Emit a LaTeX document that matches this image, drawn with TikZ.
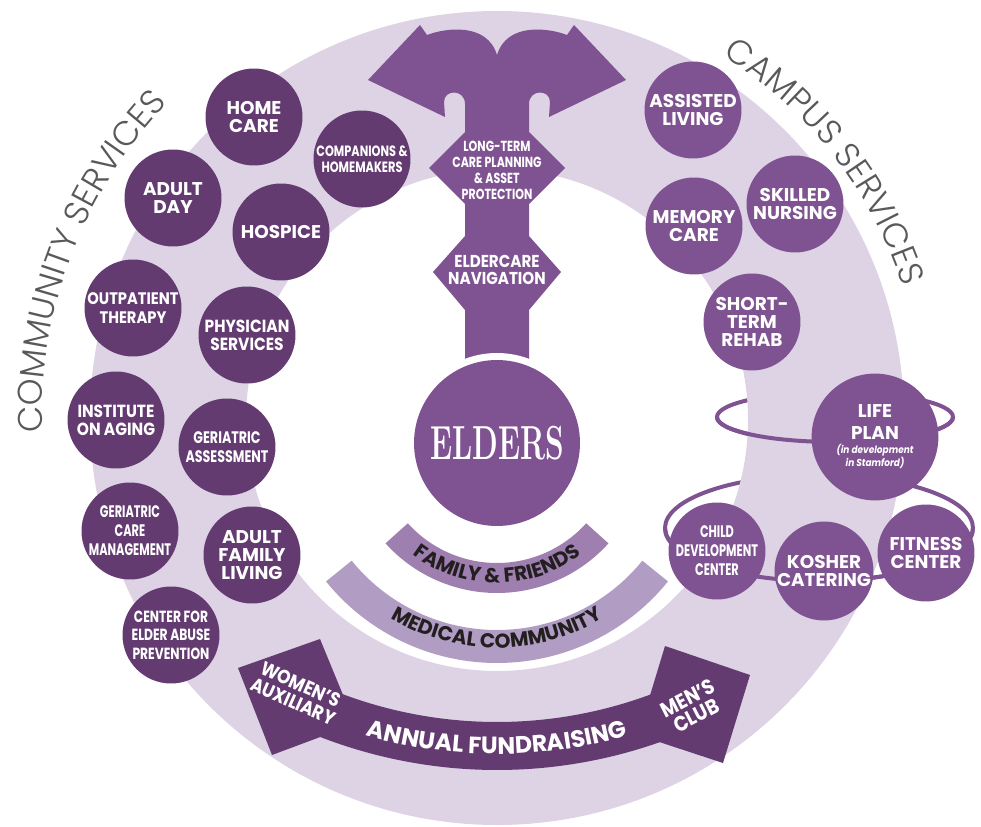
\documentclass[tikz,border=0pt]{standalone}
\usepackage{fontspec}
\usepackage{graphicx}
\usepackage{tikz}
\usetikzlibrary{decorations.text}
\newfontfamily\pop{Poppins}
\newfontfamily\popn{Poppins}[FakeStretch=0.88]
\newfontfamily\popc{Poppins}[FakeStretch=0.76]
\newfontfamily\popcc{Poppins}[FakeStretch=0.68]
\newfontfamily\lightfont{Poppins Light}
\definecolor{lav}{RGB}{221, 211, 228}
\definecolor{community}{RGB}{99, 59, 113}
\definecolor{campus}{RGB}{127, 83, 145}
\definecolor{fam}{RGB}{158, 127, 176}
\definecolor{med}{RGB}{177, 157, 195}
\definecolor{grey}{RGB}{88, 89, 91}
\definecolor{ink}{RGB}{35, 31, 32}

\begin{document}
\begin{tikzpicture}[x=0.02cm, y=0.02cm,
  com/.style={circle, fill=community, text=white, minimum size=1.94cm, inner sep=0pt, align=center, font=\pop\bfseries\fontsize{10.5}{10.4}\selectfont},
  cam/.style={com, fill=campus},
  orbit/.style={draw=campus, line width=0.08cm}]
\useasboundingbox (0, 0) rectangle (981, 826);
% orbits, back part goes behind the ring
\draw [orbit] (835, 409) ellipse [x radius=118, y radius=25];
\draw [orbit] (819, 298) ellipse [x radius=154, y radius=53];
\fill [lav, even odd rule] (497, 408) circle (407) (497, 406) circle (251);
\draw [orbit] (835, 409) ++(180:118 and 25) arc [start angle=180, end angle=360, x radius=118, y radius=25];
\draw [orbit] (819, 298) ++(180:154 and 53) arc [start angle=180, end angle=360, x radius=154, y radius=53];
% central arrow
\fill [campus] (465, 446) -- (465, 516) -- (433, 554) -- (465, 590) -- (465, 622) -- (429, 658) -- (465, 694) -- (465, 722)
  .. controls (465, 737) and (444, 737) .. (444, 724) -- (445, 709) -- (368, 746) -- (420, 801) -- (427, 791)
  .. controls (445, 798) and (487, 804) .. (497, 771) .. controls (507, 804) and (549, 798) .. (567, 791)
  -- (574, 801) -- (626, 746) -- (549, 709) -- (550, 724) .. controls (550, 737) and (529, 737) .. (529, 722)
  -- (529, 694) -- (565, 658) -- (529, 622) -- (529, 590) -- (561, 554) -- (529, 516) -- (529, 446) -- cycle;
\node [text=white, align=center, font=\popc\bfseries\fontsize{8.3}{9.1}\selectfont] (planning) at (497, 656) {LONG-TERM\\CARE PLANNING\\\& ASSET\\PROTECTION};
\node [text=white, align=center, font=\popn\bfseries\fontsize{9.8}{9.8}\selectfont] (navigation) at (497, 556) {ELDERCARE\\NAVIGATION};
\fill [white] (497, 383) circle (90);
\node [circle, fill=campus, minimum size=3.32cm, inner sep=0pt, text=white] (elders) at (497, 383) {\scalebox{1}[1.6]{\bfseries\fontsize{17}{17}\selectfont ELDERS}};
% family and medical bands
\fill [fam] (497, 383) ++(222:150) arc [start angle=222, end angle=318, radius=150] -- ++(318:-30) arc [start angle=318, end angle=222, radius=120] -- cycle;
\path [decorate, decoration={text along path, text align=center, text color=ink, text={|\pop\bfseries\fontsize{11.5}{12}\selectfont|FAMILY {\&} FRIENDS}}] (497, 383) ++(222:140) arc [start angle=222, end angle=318, radius=140];
\fill [med] (497, 383) ++(219:220) arc [start angle=219, end angle=321, radius=220] -- ++(321:-33) arc [start angle=321, end angle=219, radius=187] -- cycle;
\path [decorate, decoration={text along path, text align=center, text color=ink, text={|\pop\bfseries\fontsize{11.5}{12}\selectfont|MEDICAL COMMUNITY}}] (497, 383) ++(215:205) arc [start angle=215, end angle=325, radius=205];
% fundraising banner
\fill [community] (497, 546) ++(248:490) arc [start angle=248, end angle=292, radius=490] -- ++(292:-48) arc [start angle=292, end angle=248, radius=442] -- cycle;
\fill [community] (238, 158) -- (320, 187) -- (355, 102) -- (272, 71) -- cycle;
\fill [community] (665, 180) -- (750, 151) -- (723, 63) -- (638, 91) -- cycle;
\path [decorate, decoration={text along path, text align=center, text color=white, text={|\pop\bfseries\fontsize{13.5}{13}\selectfont|ANNUAL FUNDRAISING}}] (497, 546) ++(245:474) arc [start angle=245, end angle=295, radius=474];
\node [text=white, align=center, rotate=-24, font=\popn\bfseries\fontsize{11}{10.6}\selectfont] (women) at (297, 133) {WOMEN’S\\AUXILIARY};
\node [text=white, align=center, rotate=27, font=\popn\bfseries\fontsize{12}{11}\selectfont] (men) at (692, 119) {MEN’S\\CLUB};
% community services
\node [com] (homecare) at (254, 709) {HOME\\CARE};
\node [com] (adultday) at (173, 628) {ADULT\\DAY};
\node [com] (hospice) at (281, 594) {HOSPICE};
\node [com, font=\popc\bfseries\fontsize{8.5}{9}\selectfont] (companions) at (362, 667) {COMPANIONS \&\\HOMEMAKERS};
\node [com, font=\popn\bfseries\fontsize{9.5}{10.4}\selectfont] (outpatient) at (133, 518) {OUTPATIENT\\THERAPY};
\node [com, font=\popn\bfseries\fontsize{10}{10.4}\selectfont] (physician) at (247, 491) {PHYSICIAN\\SERVICES};
\node [com, font=\popn\bfseries\fontsize{10}{10.4}\selectfont] (institute) at (116, 406) {INSTITUTE\\ON AGING};
\node [com, font=\popc\bfseries\fontsize{9.5}{10.4}\selectfont] (assessment) at (227, 379) {GERIATRIC\\ASSESSMENT};
\node [com, font=\popcc\bfseries\fontsize{9.5}{10.8}\selectfont] (caremgmt) at (130, 295) {GERIATRIC\\CARE\\MANAGEMENT};
\node [com] (familyliving) at (252, 271) {ADULT\\FAMILY\\LIVING};
\node [com, font=\popc\bfseries\fontsize{9.2}{10.5}\selectfont] (abuse) at (171, 191) {CENTER FOR\\ELDER ABUSE\\PREVENTION};
% campus services
\node [cam] (assisted) at (693, 716) {ASSISTED\\LIVING};
\node [cam] (skilled) at (795, 622) {SKILLED\\NURSING};
\node [cam] (memory) at (694, 600) {MEMORY\\CARE};
\node [cam] (rehab) at (752, 504) {SHORT-\\TERM\\REHAB};
\node [cam, font=\pop\bfseries\fontsize{10.5}{12}\selectfont] (lifeplan) at (875, 389) {LIFE\\PLAN\\[-4pt]\parbox[t]{2.2cm}{\centering\popn\bfseries\itshape\fontsize{5.8}{5.8}\selectfont (in development\\in Stamford)}};
\node [cam, font=\popcc\bfseries\fontsize{9.5}{10.8}\selectfont] (child) at (717, 275) {CHILD\\DEVELOPMENT\\CENTER};
\node [cam] (kosher) at (824, 255) {KOSHER\\CATERING};
\node [cam] (fitness) at (926, 273) {FITNESS\\CENTER};
% ring titles
\path [decorate, decoration={text along path, text align=fit to path, text color=grey, text={|\lightfont\fontsize{19.5}{19.5}\selectfont|COMMUNITY SERVICES}}] (497, 409) ++(182:455) arc [start angle=182, end angle=136.5, radius=455];
\path [decorate, decoration={text along path, text align=fit to path, text color=grey, text={|\lightfont\fontsize{19.5}{19.5}\selectfont|CAMPUS SERVICES}}] (497, 409) ++(58:426) arc [start angle=58, end angle=18, radius=426];
\end{tikzpicture}
\end{document}
